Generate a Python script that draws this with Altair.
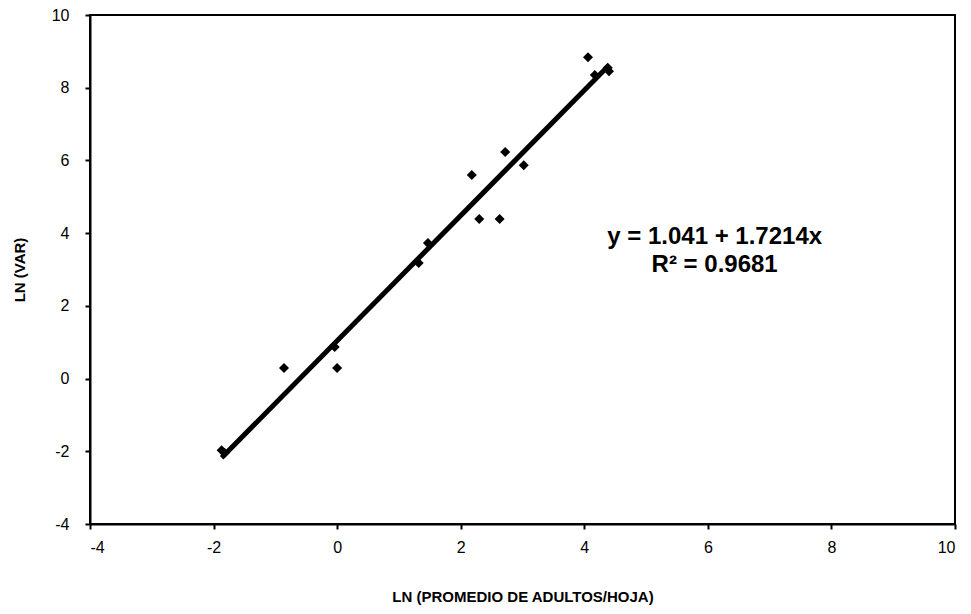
import altair as alt
import pandas as pd

xs = [-1.87, -1.82, -0.86, 0.0, -0.04, 1.32, 1.47, 2.18, 2.30, 2.63, 2.72, 3.02, 4.06, 4.17, 4.38, 4.40]
ys = [-1.97, -2.05, 0.29, 0.29, 0.87, 3.18, 3.73, 5.60, 4.39, 4.39, 6.23, 5.87, 8.84, 8.35, 8.55, 8.45]
intercept = 1.041
slope = 1.7214
eq_lines = ["y = 1.041 + 1.7214x", "R² = 0.9681"]
eq_x = [6.11, 6.11]
eq_y = [3.89, 3.12]

pts = pd.DataFrame({"x": xs, "y": ys})
fit = pd.DataFrame({"x": [min(xs), max(xs)]})
fit["y"] = intercept + slope * fit["x"]
ann = pd.DataFrame({"t": eq_lines, "x": eq_x, "y": eq_y})

font = "Liberation Sans"
xscale = alt.Scale(domain=[-4, 10], nice=False)
yscale = alt.Scale(domain=[-4, 10], nice=False)

xaxis = alt.Axis(title="LN (PROMEDIO DE ADULTOS/HOJA)", values=list(range(-4, 11, 2)),
                 labelExpr="'' + datum.value",
                 grid=False, tickSize=5, labelPadding=10, titlePadding=34,
                 labelFontSize=16, titleFontSize=15,
                 domainColor="black", domainWidth=2, tickColor="black", tickWidth=2)
yaxis = alt.Axis(title="LN (VAR)", values=list(range(-4, 11, 2)),
                 labelExpr="'' + datum.value",
                 grid=False, tickSize=5, labelPadding=16, titlePadding=24,
                 labelFontSize=16, titleFontSize=15,
                 domainColor="black", domainWidth=2, tickColor="black", tickWidth=2)

points = alt.Chart(pts).mark_point(shape="diamond", filled=True, color="black", size=100, opacity=1).encode(
    x=alt.X("x:Q", scale=xscale, axis=xaxis),
    y=alt.Y("y:Q", scale=yscale, axis=yaxis),
)
line = alt.Chart(fit).mark_line(color="black", strokeWidth=5).encode(
    x=alt.X("x:Q", scale=xscale), y=alt.Y("y:Q", scale=yscale)
)
text = alt.Chart(ann).mark_text(font=font, fontSize=24, fontWeight="bold", color="black").encode(
    x=alt.X("x:Q", scale=xscale), y=alt.Y("y:Q", scale=yscale), text="t:N"
)

chart = (line + points + text).properties(
    width=865, height=509,
    background="white",
    autosize=alt.AutoSizeParams(type="none"),
    padding={"left": 82, "top": 7, "right": 8, "bottom": 82},
).configure_view(stroke="black", strokeWidth=2).configure_axis(
    labelColor="black", titleColor="black", labelFont=font, titleFont=font,
    titleFontWeight="bold", labelFontWeight="normal"
)

chart.save("out.html", embed_options={"renderer": "svg", "actions": False})
